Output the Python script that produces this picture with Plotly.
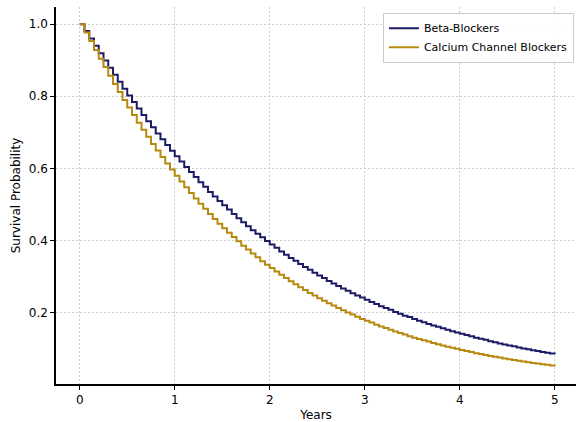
import plotly.graph_objects as go

# Time points (years) at which survival is read, every 0.05 year
years = [round(0.05 * i, 2) for i in range(101)]

beta_blockers = [
    1.000, 0.981, 0.960, 0.940, 0.919, 0.899, 0.879, 0.860, 0.840, 0.821,
    0.802, 0.784, 0.766, 0.748, 0.731, 0.714, 0.697, 0.681, 0.665, 0.649,
    0.634, 0.619, 0.604, 0.590, 0.576, 0.562, 0.549, 0.535, 0.522, 0.510,
    0.498, 0.486, 0.474, 0.462, 0.451, 0.440, 0.429, 0.419, 0.409, 0.399,
    0.389, 0.380, 0.370, 0.361, 0.352, 0.344, 0.335, 0.327, 0.319, 0.311,
    0.303, 0.296, 0.288, 0.281, 0.274, 0.267, 0.261, 0.254, 0.248, 0.242,
    0.236, 0.230, 0.224, 0.218, 0.213, 0.208, 0.202, 0.197, 0.192, 0.188,
    0.183, 0.178, 0.174, 0.169, 0.165, 0.161, 0.157, 0.153, 0.149, 0.145,
    0.142, 0.138, 0.135, 0.131, 0.128, 0.125, 0.121, 0.118, 0.115, 0.112,
    0.109, 0.107, 0.104, 0.101, 0.099, 0.096, 0.094, 0.091, 0.089, 0.087,
    0.085,
]

calcium_channel_blockers = [
    1.000, 0.977, 0.953, 0.928, 0.904, 0.881, 0.857, 0.834, 0.812, 0.790,
    0.769, 0.748, 0.727, 0.707, 0.688, 0.668, 0.650, 0.632, 0.614, 0.597,
    0.580, 0.564, 0.548, 0.532, 0.517, 0.502, 0.488, 0.474, 0.460, 0.447,
    0.434, 0.422, 0.410, 0.398, 0.386, 0.375, 0.364, 0.354, 0.343, 0.333,
    0.324, 0.314, 0.305, 0.296, 0.287, 0.279, 0.271, 0.263, 0.255, 0.248,
    0.240, 0.233, 0.226, 0.220, 0.213, 0.207, 0.201, 0.195, 0.189, 0.183,
    0.178, 0.173, 0.167, 0.162, 0.158, 0.153, 0.148, 0.144, 0.140, 0.135,
    0.131, 0.127, 0.124, 0.120, 0.116, 0.113, 0.109, 0.106, 0.103, 0.100,
    0.097, 0.094, 0.091, 0.088, 0.086, 0.083, 0.080, 0.078, 0.076, 0.073,
    0.071, 0.069, 0.067, 0.065, 0.063, 0.061, 0.059, 0.057, 0.056, 0.054,
    0.052,
]

series_names = ["Beta-Blockers", "Calcium Channel Blockers"]
series_colors = ["#1c1c66", "#b8890f"]

x_ticks = [0, 1, 2, 3, 4, 5]
y_ticks = [0.2, 0.4, 0.6, 0.8, 1.0]

FONT = "DejaVu Sans, Liberation Sans, sans-serif"

fig = go.Figure()
for name, vals, col in zip(series_names, [beta_blockers, calcium_channel_blockers], series_colors):
    fig.add_trace(go.Scatter(
        x=years, y=vals, name=name, mode="lines",
        line=dict(color=col, width=2, shape="hv"),
    ))

axis_common = dict(
    showline=True, linecolor="black", linewidth=1.5, mirror=False,
    ticks="outside", ticklen=4, tickwidth=1.2, tickcolor="black",
    showgrid=True, gridcolor="#cdcdcd", griddash="2px,2px", gridwidth=1,
    zeroline=False,
    tickfont=dict(family=FONT, size=12, color="black"),
)

fig.update_layout(
    width=576, height=422,
    margin=dict(l=56, r=0, t=7, b=38),
    paper_bgcolor="white", plot_bgcolor="white",
    font=dict(family=FONT, size=12, color="black"),
    xaxis=dict(
        range=[-0.25, 5.224], tickvals=x_ticks,
        title=dict(text="Years", font=dict(family=FONT, size=12), standoff=4),
        **axis_common,
    ),
    yaxis=dict(
        range=[0.0025, 1.0475], tickvals=y_ticks, tickformat=".1f",
        title=dict(text="Survival Probability", font=dict(family=FONT, size=12), standoff=6),
        **axis_common,
    ),
    legend=dict(
        x=0.996, y=0.985, xanchor="right", yanchor="top",
        bgcolor="rgba(255,255,255,0.9)", bordercolor="#cccccc", borderwidth=1,
        font=dict(family=FONT, size=11, color="black"),
        tracegroupgap=0, itemwidth=30,
    ),
    showlegend=True,
)

fig.write_html("out.html")
